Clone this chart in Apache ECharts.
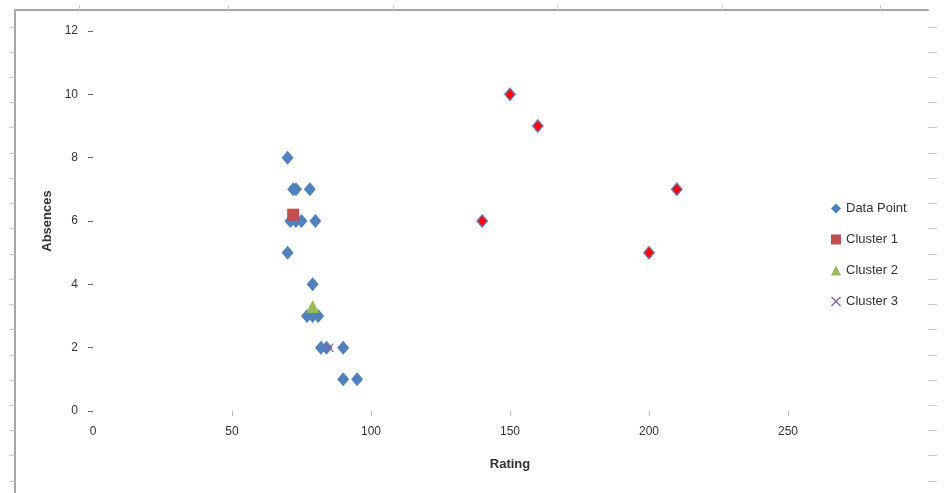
<!DOCTYPE html>
<html>
<head>
<meta charset="utf-8">
<script src="https://cdn.jsdelivr.net/npm/echarts@6/dist/echarts.min.js"></script>
<style>
  html, body { margin: 0; padding: 0; background: #fff; }
  #main { width: 948px; height: 493px; }
</style>
</head>
<body>
<div id="main"></div>
<script>
// 数据点 - Rating / Absences
var ratings = [70, 72, 73, 78, 71, 73, 75, 80, 70, 79, 77, 79, 81, 82, 84, 90, 90, 95, 150, 160, 140, 210, 200];
var absences = [8, 7, 7, 7, 6, 6, 6, 6, 5, 4, 3, 3, 3, 2, 2, 2, 1, 1, 10, 9, 6, 7, 5];
// 红色标出的点
var outlierRatings = [150, 160, 140, 210, 200];
var outlierAbsences = [10, 9, 6, 7, 5];
// 聚类中心
var clusterNames = ['Cluster 1', 'Cluster 2', 'Cluster 3'];
var clusterRatings = [72, 79, 85];
var clusterAbsences = [6.2, 3.3, 2];
// 刻度
var xTickMarks = [50, 100, 150, 200, 250];

function pairs(xs, ys) {
  return xs.map(function (x, i) { return [x, ys[i]]; });
}

var font = '"Liberation Sans Narrow", "Liberation Sans", Arial, sans-serif';
var crossPath = 'path://M1,0 L5,4 L9,0 L10,1 L6,5 L10,9 L9,10 L5,6 L1,10 L0,9 L4,5 L0,1 Z';

// 外框的小刻度 (装饰)
var frameTicksY = [];
for (var k = 0; k < 19; k++) frameTicksY.push(17 + k * 25.6);

(function () {
  var myChart = echarts.init(document.getElementById('main'));
  var option = {
    animation: false,
    textStyle: { fontFamily: font },
    grid: [
      { left: 93, top: 31, right: 21, bottom: 82 },
      { left: 15, top: 10, width: 913, height: 490 }
    ],
    legend: {
      orient: 'vertical',
      left: 826,
      top: 197,
      itemWidth: 10,
      itemHeight: 10,
      itemGap: 18,
      textStyle: { color: '#333', fontSize: 13, fontFamily: font },
      data: [
        { name: 'Data Point', icon: 'diamond' },
        { name: 'Cluster 1', icon: 'rect' },
        { name: 'Cluster 2', icon: 'triangle' },
        { name: 'Cluster 3', icon: crossPath }
      ]
    },
    xAxis: [
      {
        type: 'value',
        gridIndex: 0,
        min: 0,
        max: 300,
        interval: 50,
        name: 'Rating',
        nameLocation: 'middle',
        nameGap: 47,
        nameTextStyle: { color: '#333', fontSize: 13, fontWeight: 'bold' },
        axisLine: { show: false },
        axisTick: { show: true, length: 5, customValues: xTickMarks, lineStyle: { color: '#bbb' } },
        axisLabel: { color: '#333', fontSize: 12, margin: 15, showMaxLabel: false },
        splitLine: { show: false }
      },
      {
        type: 'value',
        gridIndex: 1,
        position: 'top',
        min: 0,
        max: 913,
        axisLine: { show: true, lineStyle: { color: '#a6a6a6', width: 2 } },
        axisTick: { show: true, length: 5, customValues: [64, 213, 378, 542, 707, 865], lineStyle: { color: '#ccc' } },
        axisLabel: { show: false },
        splitLine: { show: false }
      }
    ],
    yAxis: [
      {
        type: 'value',
        gridIndex: 0,
        min: 0,
        max: 12,
        interval: 2,
        name: 'Absences',
        nameLocation: 'middle',
        nameGap: 38,
        nameRotate: 90,
        nameTextStyle: { color: '#333', fontSize: 13, fontWeight: 'bold' },
        axisLine: { show: false },
        axisTick: { show: true, length: 5, lineStyle: { color: '#666' } },
        axisLabel: { color: '#333', fontSize: 12, margin: 15 },
        splitLine: { show: false }
      },
      {
        type: 'value',
        gridIndex: 1,
        position: 'left',
        inverse: true,
        min: 0,
        max: 490,
        axisLine: { show: true, lineStyle: { color: '#a6a6a6', width: 2 } },
        axisTick: { show: true, length: 6, customValues: frameTicksY, lineStyle: { color: '#ccc' } },
        axisLabel: { show: false },
        splitLine: { show: false }
      },
      {
        type: 'value',
        gridIndex: 1,
        position: 'right',
        inverse: true,
        min: 0,
        max: 490,
        axisLine: { show: false },
        axisTick: { show: true, length: 9, customValues: frameTicksY, lineStyle: { color: '#ccc' } },
        axisLabel: { show: false },
        splitLine: { show: false }
      }
    ],
    series: [
      {
        name: 'Data Point',
        type: 'scatter',
        symbol: 'diamond',
        symbolSize: [12, 14],
        itemStyle: { color: '#4F81BD', opacity: 1 },
        data: pairs(ratings, absences)
      },
      {
        name: 'Outlier',
        type: 'scatter',
        symbol: 'diamond',
        symbolSize: [10, 12],
        itemStyle: { color: '#ff0000', borderColor: '#6a7fb5', borderWidth: 1, opacity: 1 },
        data: pairs(outlierRatings, outlierAbsences)
      },
      {
        name: clusterNames[0],
        type: 'scatter',
        symbol: 'rect',
        symbolSize: 12,
        itemStyle: { color: '#C0504D', opacity: 1 },
        data: [[clusterRatings[0], clusterAbsences[0]]]
      },
      {
        name: clusterNames[1],
        type: 'scatter',
        symbol: 'triangle',
        symbolSize: 13,
        itemStyle: { color: '#9BBB59', opacity: 1 },
        data: [[clusterRatings[1], clusterAbsences[1]]]
      },
      {
        name: clusterNames[2],
        type: 'scatter',
        symbol: crossPath,
        symbolSize: 9,
        itemStyle: { color: '#8064A2', opacity: 1 },
        data: [[clusterRatings[2], clusterAbsences[2]]]
      }
    ]
  };

  myChart.setOption(option);
  window.addEventListener('resize', function () {
    myChart.resize();
  });
})();
</script>
</body>
</html>
